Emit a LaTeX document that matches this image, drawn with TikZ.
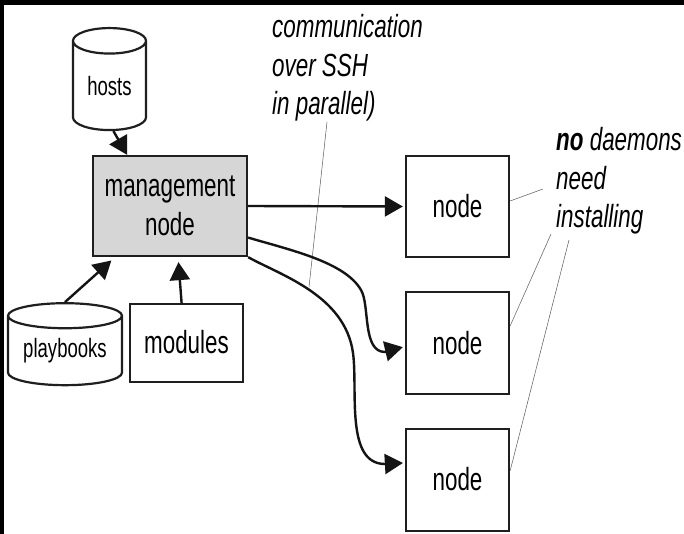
\documentclass[tikz,border=0pt]{standalone}
\usepackage{fontspec}
\setmainfont[FakeStretch=0.7]{Liberation Sans}
\usetikzlibrary{arrows.meta,shapes.geometric,calc}
\tikzset{
  box/.style={draw=black!88,line width=2.3pt,rectangle,inner sep=0pt,font=\fontsize{32}{39}\selectfont,align=center},
  dbase/.style={draw=black!88,line width=2.2pt,cylinder,shape border rotate=90,inner sep=0pt,font=\fontsize{26.5}{30}\selectfont,cylinder uses custom fill,cylinder body fill=white,cylinder end fill=white},
  flow/.style={line width=2.4pt,draw=black!92,-{Triangle[length=18pt,width=20pt]},shorten >=2pt},
  leader/.style={line width=0.5pt,draw=black!65},
  note/.style={inner sep=0pt,anchor=base west,align=left,font=\fontsize{32}{38.5}\selectfont\itshape}
}
\begin{document}
\begin{tikzpicture}[x=1pt,y=-1pt]
\useasboundingbox (0,0) rectangle (684,534);
\fill[black] (0,0) rectangle (684,534);
\fill[white] (4,5) rectangle (684,534);
\node[box,fill=black!16,minimum width=154pt,minimum height=100pt] (mgmt) at (170,206) {management\\node};
\node[box,minimum width=103pt,minimum height=101pt] (n1) at (457.5,206.5) {node};
\node[box,minimum width=103pt,minimum height=102pt] (n2) at (457.5,343) {\raisebox{1pt}{node}};
\node[box,minimum width=103pt,minimum height=102pt] (n3) at (457.5,480) {\raisebox{3pt}{node}};
\node[box,minimum width=113pt,minimum height=78pt] (modules) at (186.5,343) {\raisebox{3pt}{modules}};
\node[dbase,minimum width=73pt,minimum height=102pt,aspect=0.575] (hosts) at (109.5,86) {hosts};
\node[dbase,minimum width=114pt,minimum height=82pt,aspect=0.3] (playbooks) at (65,351) {playbooks};
\node[note] (comm) at (272,115) {communication\\over SSH\\in parallel)};
\node[note] (daemons) at (556,228) {\textbf{no} daemons\\need\\installing};
\coordinate (lc) at (327,122);
\coordinate (cross) at (309,287);
\coordinate (la) at (543,189);
\coordinate (lb) at (551,234);
\coordinate (ld) at (569,240);
\draw[leader] (lc) -- (cross);
\draw[leader] (n1.6.5) -- (la);
\draw[leader] (n2.18) -- (lb);
\draw[leader] (n3.10) -- (ld);
\draw[flow,shorten >=0pt] (hosts.-85) -- (mgmt.130);
\draw[flow,shorten >=5pt] (playbooks.north) -- (mgmt.223.3);
\draw[flow,shorten >=5pt] (modules.97) -- (mgmt.-81);
\draw[flow] (mgmt.east) -- (n1.west);
\draw[flow] (mgmt.-22.6) .. controls (290,250) and (345,262) .. (361,290) .. controls (370,305) and (362,352) .. (385,352) .. controls (390,352) and (395,349) .. (n2.184);
\draw[flow] (mgmt.south east) .. controls (280,275) and (345,295) .. (353,353) .. controls (358,390) and (345,464) .. (385,464) -- (n3.162.7);
\end{tikzpicture}
\end{document}
